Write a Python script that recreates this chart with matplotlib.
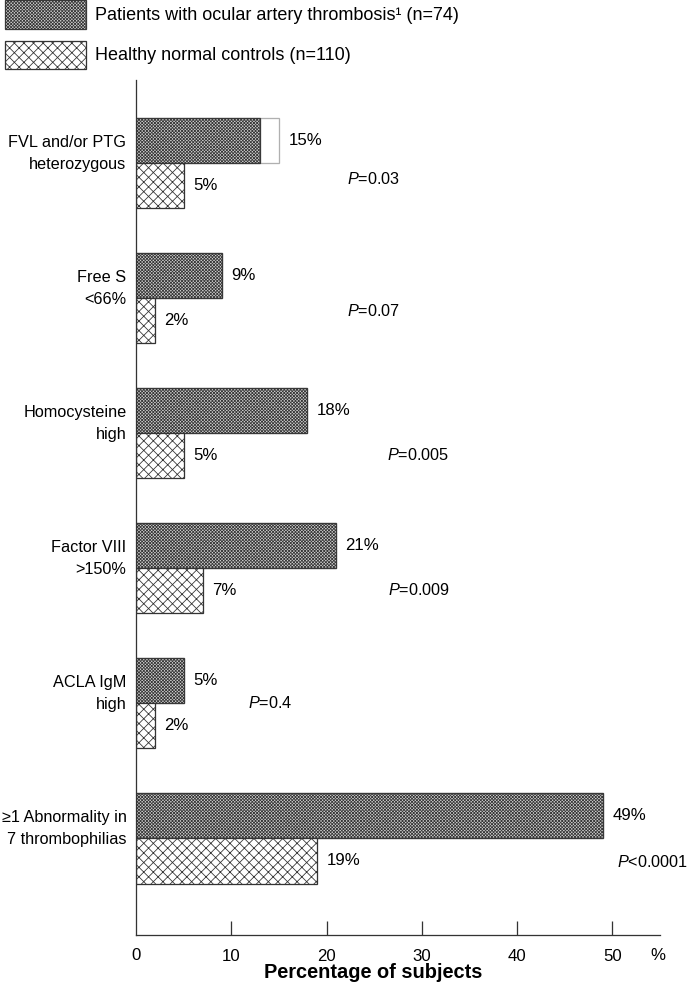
import numpy as np
import matplotlib
matplotlib.use("Agg")
import matplotlib.pyplot as plt
import matplotlib.transforms as mtransforms
from matplotlib.patches import Rectangle

plt.rcParams['font.family'] = ['Liberation Sans', 'DejaVu Sans']
plt.rcParams['mathtext.fontset'] = 'custom'
plt.rcParams['mathtext.rm'] = 'Liberation Sans'
plt.rcParams['mathtext.it'] = 'Liberation Sans:italic'
plt.rcParams['hatch.linewidth'] = 0.5

categories = ["FVL and/or PTG\nheterozygous", "Free S\n<66%", "Homocysteine\nhigh",
              "Factor VIII\n>150%", "ACLA IgM\nhigh", "\u22651 Abnormality in\n7 thrombophilias"]
patients_pct = [15, 9, 18, 21, 5, 49]
patients_solid = [13, 9, 18, 21, 5, 49]   # FVL bar only filled up to ~13
controls_pct = [5, 2, 5, 7, 2, 19]
p_values = ["=0.03", "=0.07", "=0.005", "=0.009", "=0.4", "<0.0001"]
# where the p-value text sits (x in %, y offset from group centre)
p_x = [22.1, 22.1, 26.3, 26.4, 11.8, 50.5]
p_dy = [0.12, 0.10, 0.16, 0.16, 0.0, 0.18]

W, H, DPI = 687, 988, 115
fig = plt.figure(figsize=(W / DPI, H / DPI), dpi=DPI)
ax = fig.add_axes([136 / W, 1 - 935 / H, (660 - 136) / W, (935 - 80) / H])

dark_face = '#d4d4d4'
dark_hatch = '#383838'
dark_pat = 'x' * 12
light_pat = 'x' * 4
y = np.arange(len(categories))
h = 0.336

# patients
ax.barh(y - h / 2, patients_pct, height=h, color='white', edgecolor='#b0b0b0', linewidth=0.8)
ax.barh(y - h / 2, patients_solid, height=h, color=dark_face, edgecolor=dark_hatch,
        hatch=dark_pat, linewidth=0.8)
# controls
ax.barh(y + h / 2, controls_pct, height=h, color='white', edgecolor='#333333',
        hatch=light_pat, linewidth=0.8)

fs = 10.5
for i in range(len(categories)):
    ax.text(patients_pct[i] + 1.0, y[i] - h / 2, f"{patients_pct[i]}%", va='center', ha='left', fontsize=fs)
    ax.text(controls_pct[i] + 1.0, y[i] + h / 2, f"{controls_pct[i]}%", va='center', ha='left', fontsize=fs)
    ax.text(p_x[i], y[i] + p_dy[i], r"$\mathit{P}$" + p_values[i], va='center', ha='left', fontsize=10.2)
    ax.text(-1.0, y[i] - 0.07, categories[i], va='center', ha='right', multialignment='right',
            fontsize=10.2, linespacing=1.55, clip_on=False)

ax.set_xlim(0, 55)
ax.set_ylim(len(categories) - 1 + 0.717, -0.614)
ax.set_xticks([10, 20, 30, 40, 50])
ax.tick_params(axis='x', direction='in', length=9, width=0.8, color='#333333',
               labelsize=fs, pad=9)
ax.set_yticks([])
# the "0" and "%" under the axis line
lab = mtransforms.blended_transform_factory(ax.transData, ax.transAxes) + \
    mtransforms.ScaledTranslation(0, -20 / DPI, fig.dpi_scale_trans)
ax.text(0, 0, "0", transform=lab, ha='center', va='center', fontsize=fs)
ax.text(54.8, 0, "%", transform=lab, ha='center', va='center', fontsize=fs)
for s in ['top', 'right']:
    ax.spines[s].set_visible(False)
for s in ['left', 'bottom']:
    ax.spines[s].set_color('#333333')
    ax.spines[s].set_linewidth(0.8)

fig.text(373 / W, 1 - 972 / H, "Percentage of subjects", ha='center', va='center',
         fontsize=12.5, fontweight='bold')

# legend boxes drawn at the top left
fig.add_artist(Rectangle((5 / W, 1 - 29 / H), 81 / W, 29 / H, transform=fig.transFigure,
                         facecolor=dark_face, edgecolor=dark_hatch, hatch=dark_pat, linewidth=0.8))
fig.add_artist(Rectangle((5 / W, 1 - 69 / H), 81 / W, 28 / H, transform=fig.transFigure,
                         facecolor='white', edgecolor='#333333', hatch=light_pat, linewidth=0.8))
fig.text(95 / W, 1 - 16 / H, "Patients with ocular artery thrombosis\u00b9 (n=74)", va='center', fontsize=11.3)
fig.text(95 / W, 1 - 55 / H, "Healthy normal controls (n=110)", va='center', fontsize=11.3)

fig.savefig("out.png", dpi=DPI)
